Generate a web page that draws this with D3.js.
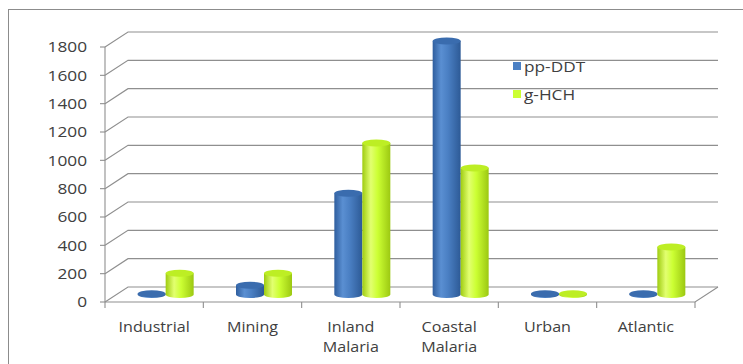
<!DOCTYPE html>
<html>
<head>
<meta charset="utf-8">
<script src="https://cdn.jsdelivr.net/npm/d3@7/dist/d3.min.js"></script>
<style>
  body { margin: 0; background: #fff; }
  text { font-family: "Open Sans", "DejaVu Sans", sans-serif; fill: #404040; }
</style>
</head>
<body>
<script>
// data
var categories = [["Industrial"], ["Mining"], ["Inland", "Malaria"], ["Coastal", "Malaria"], ["Urban"], ["Atlantic"]];
var seriesNames = ["pp-DDT", "g-HCH"];
var ppDDT = [5, 65, 715, 1790, 5, 5];
var gHCH = [150, 150, 1070, 893, 5, 335];
var yTicks = [0, 200, 400, 600, 800, 1000, 1200, 1400, 1600, 1800];

var width = 743, height = 364,
  depthX = 23, depthY = -15,   // 3d wall offset
  ry = 3.5,
  stretch = 1.15;              // the picture's text is wider than normal

var svg = d3.select("body").append("svg")
  .attr("width", width)
  .attr("height", height);

// outer frame
svg.append("rect")
  .attr("x", 8.5).attr("y", 9.5)
  .attr("width", 745).attr("height", 370)
  .attr("fill", "none").attr("stroke", "#8c8c8c");

var x = d3.scaleBand()
  .domain(d3.range(categories.length))
  .range([105, 695]);

var y = d3.scaleLinear()
  .domain([0, 1800])
  .range([302, 47]);

var groupW = 56;
var xSub = d3.scaleBand()
  .domain(seriesNames)
  .range([0, groupW]);

var colors = {"pp-DDT": ["#2f5e9e", "#5a8fd2", "#4a7fc3", "#2d5a96", "#3a6cae"],
              "g-HCH": ["#9fcc10", "#e2ff70", "#ccff33", "#9cc812", "#bdee24"]};

function widen(x0) {
  return "translate(" + x0 + ",0) scale(" + stretch + ",1) translate(" + (-x0) + ",0)";
}

// gradients for cylinders
var defs = svg.append("defs");
seriesNames.forEach(function (s, k) {
  var g = defs.append("linearGradient").attr("id", "grad" + k)
    .attr("x1", "0").attr("x2", "1").attr("y1", "0").attr("y2", "0");
  g.append("stop").attr("offset", "0%").attr("stop-color", colors[s][0]);
  g.append("stop").attr("offset", "30%").attr("stop-color", colors[s][1]);
  g.append("stop").attr("offset", "55%").attr("stop-color", colors[s][2]);
  g.append("stop").attr("offset", "100%").attr("stop-color", colors[s][3]);
});

var grid = svg.append("g").attr("stroke", "#8f8f8f").attr("stroke-width", 1.1).attr("fill", "none");

// back wall gridlines + side wall diagonals
yTicks.forEach(function (t) {
  var yy = y(t);
  grid.append("path")
    .attr("d", "M" + x.range()[0] + "," + yy + "L" + (x.range()[0] + depthX) + "," + (yy + depthY) +
      "L" + (x.range()[1] + depthX) + "," + (yy + depthY));
  grid.append("line")
    .attr("x1", x.range()[0] - 5).attr("x2", x.range()[0])
    .attr("y1", yy).attr("y2", yy);
});

// front vertical axis
grid.append("line")
  .attr("x1", x.range()[0]).attr("x2", x.range()[0])
  .attr("y1", y(1800)).attr("y2", y(0));

// floor front edge and right diagonal
grid.append("path")
  .attr("d", "M" + x.range()[0] + "," + y(0) + "L" + x.range()[1] + "," + y(0) +
    "L" + (x.range()[1] + depthX) + "," + (y(0) + depthY));

// category tick marks
d3.range(categories.length + 1).forEach(function (i) {
  var xx = x.range()[0] + i * x.bandwidth();
  grid.append("line")
    .attr("x1", xx).attr("x2", xx)
    .attr("y1", y(0)).attr("y2", y(0) + 6);
});

// y tick labels
svg.append("g").selectAll("text")
  .data(yTicks)
  .join("text")
  .attr("x", 87)
  .attr("y", function (d) { return y(d); })
  .attr("dy", "0.36em")
  .attr("text-anchor", "end")
  .style("font-size", "15px")
  .attr("transform", widen(87))
  .text(function (d) { return d; });

// category labels
var cl = svg.append("g").selectAll("text")
  .data(categories)
  .join("text")
  .attr("x", function (d, i) { return x(i) + x.bandwidth() / 2; })
  .attr("y", 332)
  .attr("text-anchor", "middle")
  .attr("transform", function (d, i) { return widen(x(i) + x.bandwidth() / 2); })
  .style("font-size", "14px");
cl.selectAll("tspan")
  .data(function (d) { return d; })
  .join("tspan")
  .attr("x", function () { return d3.select(this.parentNode).attr("x"); })
  .attr("dy", function (d, j) { return j === 0 ? 0 : 20; })
  .text(function (d) { return d; });

// cylinders
var rows = [];
categories.forEach(function (c, i) {
  rows.push({i: i, s: "pp-DDT", k: 0, v: ppDDT[i]});
  rows.push({i: i, s: "g-HCH", k: 1, v: gHCH[i]});
});

var bw = xSub.bandwidth();
function cx(d) {
  return x(d.i) + (x.bandwidth() - groupW) / 2 + depthX / 2 + xSub(d.s) + bw / 2;
}
function yBase(d) { return y(0) + depthY / 2; }
function yTop(d) { return y(d.v) + depthY / 2; }

var cyl = svg.append("g").selectAll("g")
  .data(rows)
  .join("g");

cyl.append("path")
  .attr("fill", function (d) { return "url(#grad" + d.k + ")"; })
  .attr("d", function (d) {
    var r = bw / 2, c = cx(d), b = yBase(d), t = yTop(d);
    return "M" + (c - r) + "," + t + "L" + (c - r) + "," + b +
      "A" + r + "," + ry + " 0 0,0 " + (c + r) + "," + b +
      "L" + (c + r) + "," + t + "Z";
  });

cyl.append("ellipse")
  .attr("cx", cx)
  .attr("cy", yTop)
  .attr("rx", bw / 2)
  .attr("ry", ry)
  .attr("fill", function (d) { return colors[d.s][4]; });

// legend
var legend = svg.append("g").selectAll("g")
  .data(seriesNames)
  .join("g")
  .attr("transform", function (d, i) { return "translate(513," + (62 + i * 28) + ")"; });
legend.append("rect")
  .attr("width", 8).attr("height", 8)
  .attr("fill", function (d) { return colors[d][2]; });
legend.append("text")
  .attr("x", 11).attr("y", 10)
  .attr("transform", widen(11))
  .style("font-size", "15px")
  .text(function (d) { return d; });
</script>
</body>
</html>
